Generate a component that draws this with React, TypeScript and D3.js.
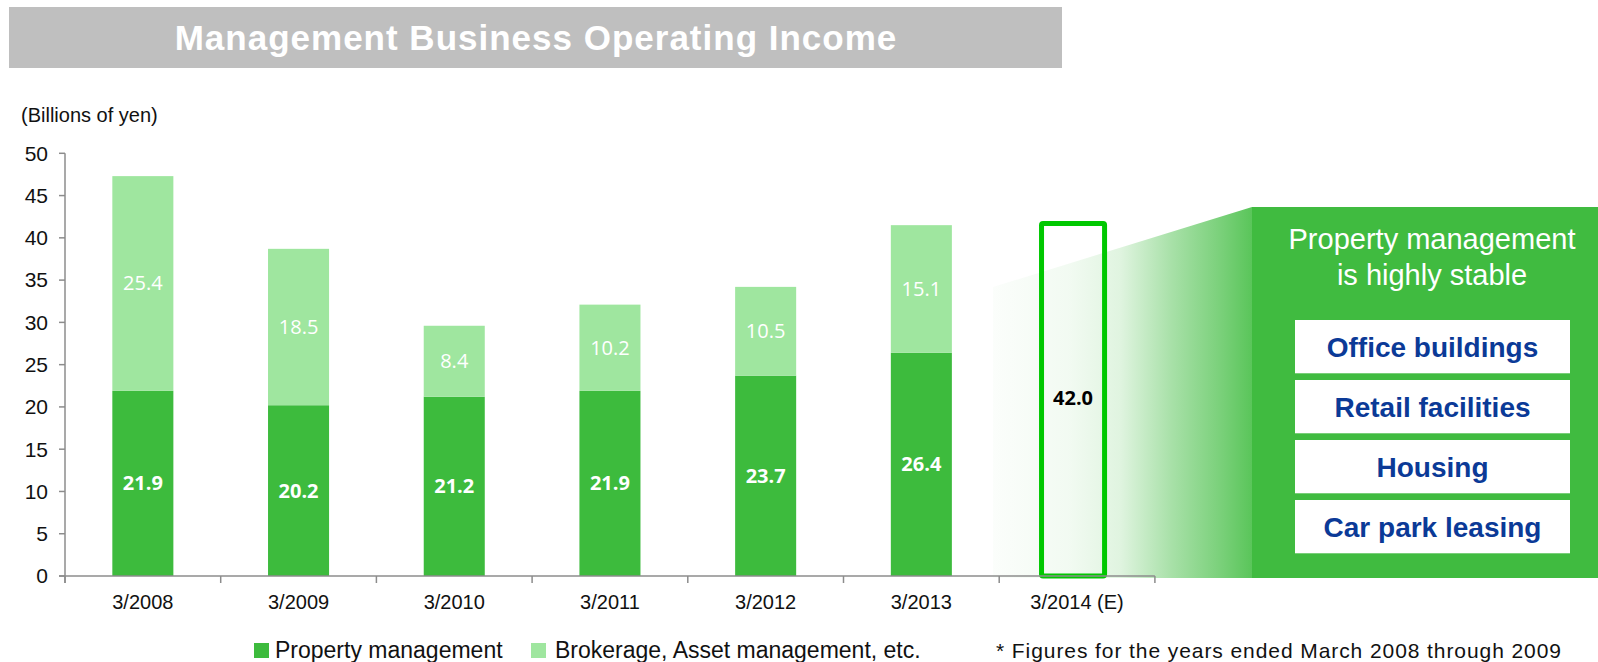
import React from 'react';
import * as d3 from 'd3';

// fiscal years (March year-end)
const years = ['3/2008', '3/2009', '3/2010', '3/2011', '3/2012', '3/2013', '3/2014 (E)'];
const propertyMgmt = [21.9, 20.2, 21.2, 21.9, 23.7, 26.4];
const brokerage = [25.4, 18.5, 8.4, 10.2, 10.5, 15.1];
const forecastTotal = 42.0;
const yTicks = [0, 5, 10, 15, 20, 25, 30, 35, 40, 45, 50];
const segments = ['Office buildings', 'Retail facilities', 'Housing', 'Car park leasing'];
const legendItems = ['Property management', 'Brokerage, Asset management, etc.'];

const W = 1598;
const H = 662;
const DARK = '#3dbb3d';
const LIGHT = '#9fe69f';
const FONT = '"Liberation Sans", Arial, sans-serif';
const LABEL_FONT = '"Open Sans", "DejaVu Sans", sans-serif';

export default function App() {
  const x = d3
    .scaleBand<string>()
    .domain(years)
    .range([65, 65 + 7 * 155.7])
    .paddingInner(0.608)
    .paddingOuter(0.304);

  const y = d3.scaleLinear().domain([0, 50]).range([576, 153.3]);

  const stacked = years.slice(0, 6).map((yr, i) => ({
    year: yr,
    pm: propertyMgmt[i],
    br: brokerage[i],
  }));

  const step = x.step();
  const bw = x.bandwidth();
  const fYear = years[6];
  const fx = x(fYear)!;

  // right panel geometry
  const panelX = 1252;
  const panelTop = 207;
  const panelBottom = 578;
  const wedgeX = 993;

  const boxX = 1295;
  const boxW = 275;
  const boxTop = 320;
  const boxH = 53.3;
  const boxStep = 60;

  return (
    <svg width={W} height={H} style={{ position: 'absolute', left: 0, top: 0 }} fontFamily={FONT}>
      <defs>
        <linearGradient id="fade" x1={wedgeX} x2={panelX} y1={0} y2={0} gradientUnits="userSpaceOnUse">
          <stop offset="0" stopColor={DARK} stopOpacity={0.02} />
          <stop offset="0.3" stopColor={DARK} stopOpacity={0.07} />
          <stop offset="0.49" stopColor={DARK} stopOpacity={0.16} />
          <stop offset="0.69" stopColor={DARK} stopOpacity={0.45} />
          <stop offset="0.89" stopColor={DARK} stopOpacity={0.7} />
          <stop offset="1" stopColor={DARK} stopOpacity={0.85} />
        </linearGradient>
      </defs>

      {/* title banner */}
      <rect x={9} y={7} width={1053} height={61} fill="#bfbfbf" />
      <text x={536} y={50} textAnchor="middle" fontSize={35} fontWeight="bold" fill="#fff" letterSpacing={1}>
        Management Business Operating Income
      </text>

      <text x={21} y={122} fontSize={20} fill="#111">(Billions of yen)</text>

      {/* fade wedge + green panel */}
      <polygon
        points={`${wedgeX},287 ${panelX},${panelTop} ${panelX},${panelBottom} ${wedgeX},${panelBottom}`}
        fill="url(#fade)"
      />
      <rect x={panelX} y={panelTop} width={W - panelX} height={panelBottom - panelTop} fill="#40bb40" />

      <text x={1432} y={249} textAnchor="middle" fontSize={29} fill="#fff">Property management</text>
      <text x={1432} y={285} textAnchor="middle" fontSize={29} fill="#fff">is highly stable</text>

      {segments.map((s, i) => (
        <g key={s}>
          <rect x={boxX} y={boxTop + i * boxStep} width={boxW} height={boxH} fill="#fff" />
          <text
            x={boxX + boxW / 2}
            y={boxTop + i * boxStep + boxH / 2 + 10}
            textAnchor="middle"
            fontSize={28}
            fontWeight="bold"
            fill="#0b3a97"
          >
            {s}
          </text>
        </g>
      ))}

      {/* y axis */}
      <line x1={65} x2={65} y1={y(50)} y2={y(0) + 7} stroke="#8c8c8c" strokeWidth={1.5} />
      {yTicks.map(t => (
        <g key={t}>
          <line x1={59} x2={65} y1={y(t)} y2={y(t)} stroke="#8c8c8c" strokeWidth={1.5} />
          <text x={48} y={y(t)} dy="0.35em" textAnchor="end" fontSize={21} fill="#111">
            {t}
          </text>
        </g>
      ))}

      {/* stacked bars */}
      {stacked.map(d => {
        const bx = x(d.year)!;
        const yPm = y(d.pm);
        const yTot = y(d.pm + d.br);
        return (
          <g key={d.year}>
            <rect x={bx} y={yPm} width={bw} height={y(0) - yPm} fill={DARK} />
            <rect x={bx} y={yTot} width={bw} height={yPm - yTot} fill={LIGHT} />
            <text
              x={bx + bw / 2}
              y={(y(0) + yPm) / 2}
              dy="0.35em"
              textAnchor="middle"
              fontSize={20}
              fontWeight="bold"
              fill="#fff"
              fontFamily={LABEL_FONT}
            >
              {d.pm.toFixed(1)}
            </text>
            <text
              x={bx + bw / 2}
              y={(yPm + yTot) / 2}
              dy="0.35em"
              textAnchor="middle"
              fontSize={20}
              fill="#fff"
              fontFamily={LABEL_FONT}
            >
              {d.br.toFixed(1)}
            </text>
          </g>
        );
      })}

      {/* forecast bar outline */}
      <rect
        x={fx - 5}
        y={y(forecastTotal) + 2.5}
        width={bw + 2}
        height={y(0) - y(forecastTotal) - 2.5}
        fill="none"
        stroke="#00c800"
        strokeWidth={5}
        rx={1.5}
      />
      <text
        x={fx - 4 + bw / 2}
        y={(y(0) + y(forecastTotal)) / 2}
        dy="0.35em"
        textAnchor="middle"
        fontSize={20}
        fontWeight="bold"
        fill="#000"
        fontFamily={LABEL_FONT}
      >
        {forecastTotal.toFixed(1)}
      </text>

      {/* x axis */}
      <line x1={59} x2={65 + 7 * step} y1={y(0)} y2={y(0)} stroke="#8c8c8c" strokeWidth={1.5} />
      {d3.range(8).map(i => (
        <line
          key={i}
          x1={65 + i * step}
          x2={65 + i * step}
          y1={y(0)}
          y2={y(0) + 7}
          stroke="#8c8c8c"
          strokeWidth={1.5}
        />
      ))}
      {years.map(yr => (
        <text key={yr} x={x(yr)! + bw / 2} y={609} textAnchor="middle" fontSize={20} fill="#111">
          {yr}
        </text>
      ))}

      {/* legend */}
      <rect x={254} y={643} width={15} height={15} fill={DARK} />
      <text x={275} y={658} fontSize={23} fill="#111">{legendItems[0]}</text>
      <rect x={531} y={643} width={15} height={15} fill={LIGHT} />
      <text x={555} y={658} fontSize={23} fill="#111">{legendItems[1]}</text>

      <text x={996} y={658} fontSize={21} fill="#111" textLength={565} lengthAdjust="spacing">
        * Figures for the years ended March 2008 through 2009
      </text>
    </svg>
  );
}
